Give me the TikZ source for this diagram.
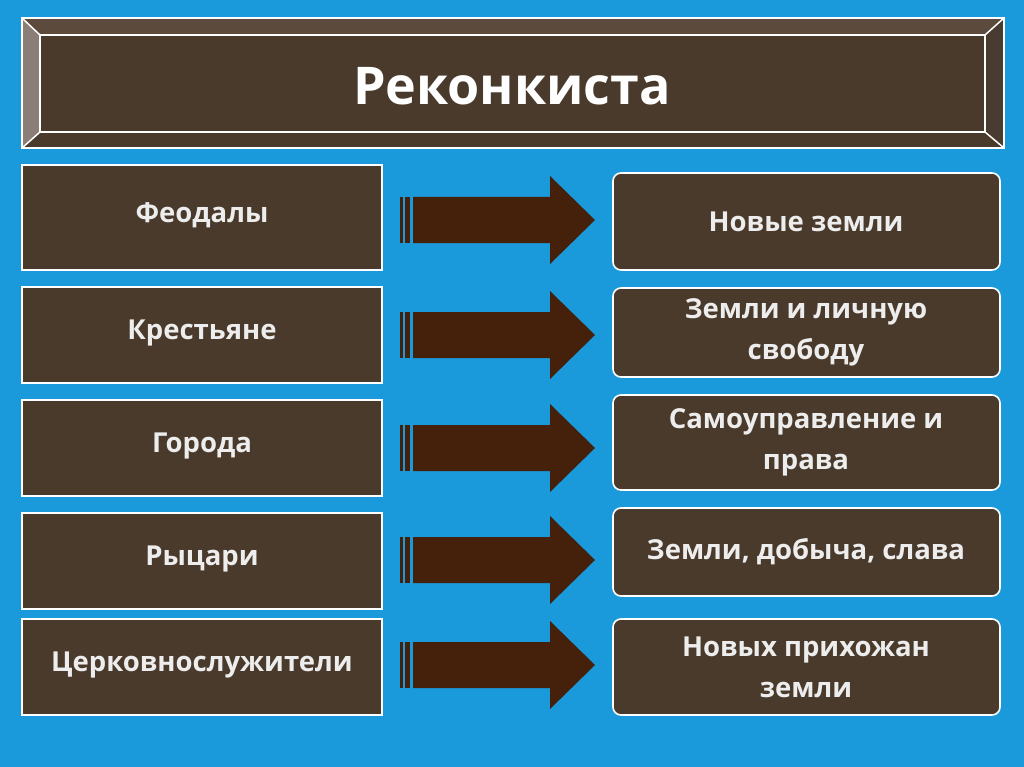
\documentclass[tikz,border=0pt]{standalone}
\usepackage{fontspec}
\setmainfont{Open Sans}
\definecolor{bg}{HTML}{1A9ADB}
\definecolor{wood}{HTML}{4A3A2C}
\definecolor{woodtop}{HTML}{5C4A3C}
\definecolor{woodside}{HTML}{8A7E76}
\definecolor{arr}{HTML}{45200A}
\definecolor{txt}{HTML}{EDEDED}
\tikzset{
  leftbox/.style={draw=white, line width=1.2pt, fill=wood, inner sep=0},
  rightbox/.style={draw=white, line width=1.6pt, fill=wood, rounded corners=8pt},
  lbl/.style={text=txt, font=\bfseries\fontsize{27.5}{41}\selectfont, align=center},
}
\begin{document}
\begin{tikzpicture}[x=1pt,y=-1pt]
\fill[bg] (0,0) rectangle (1024,767);
\useasboundingbox (0,0) rectangle (1024,767);
% title frame
\fill[wood] (22,18) rectangle (1004,148);
\fill[woodtop] (22,18) -- (1004,18) -- (985,35) -- (40,35) -- cycle;
\fill[woodside] (22,18) -- (40,35) -- (40,132) -- (22,148) -- cycle;
\fill[woodtop!80!black] (1004,18) -- (985,35) -- (985,132) -- (1004,148) -- cycle;
\draw[white, line width=2.5pt] (22,18) rectangle (1004,148);
\draw[white, line width=2.5pt] (40,35) rectangle (985,132);
\draw[white, line width=1.5pt] (22,18) -- (40,35) (1004,18) -- (985,35) (22,148) -- (40,132) (1004,148) -- (985,132);
\node[text=white, font=\bfseries\fontsize{52}{60}\selectfont] (title) at (512,86) {Реконкиста};
% rows
\foreach \n/\ly/\lh/\ry/\rh/\ay/\lt/\rt in {
  1/165/270/173/270/220/Феодалы/Новые земли,
  2/287/383/288/377/335/Крестьяне/{Земли и личную\\свободу},
  3/400/496/395/490/448/Города/{Самоуправление и\\права},
  4/513/609/508/596/560/Рыцари/{Земли, добыча, слава},
  5/619/715/619/715/665/Церковнослужители/{Новых прихожан\\земли}}{
  \draw[leftbox] (22,\ly) rectangle (382,\lh);
  \node[lbl] (l\n) at (202,{(\ly+\lh)/2-2}) {\lt};
  \draw[rightbox] (613,\ry) rectangle (1000,\rh);
  \node[lbl] (r\n) at (806,{(\ry+\rh)/2}) {\rt};
  \fill[arr] (413,\ay-23) -- (550,\ay-23) -- (550,\ay-44) -- (595,\ay) -- (550,\ay+44) -- (550,\ay+23) -- (413,\ay+23) -- cycle;
  \fill[arr] (400,\ay-23) rectangle (403,\ay+23);
  \fill[arr] (405,\ay-23) rectangle (410,\ay+23);
}
\end{tikzpicture}
\end{document}
